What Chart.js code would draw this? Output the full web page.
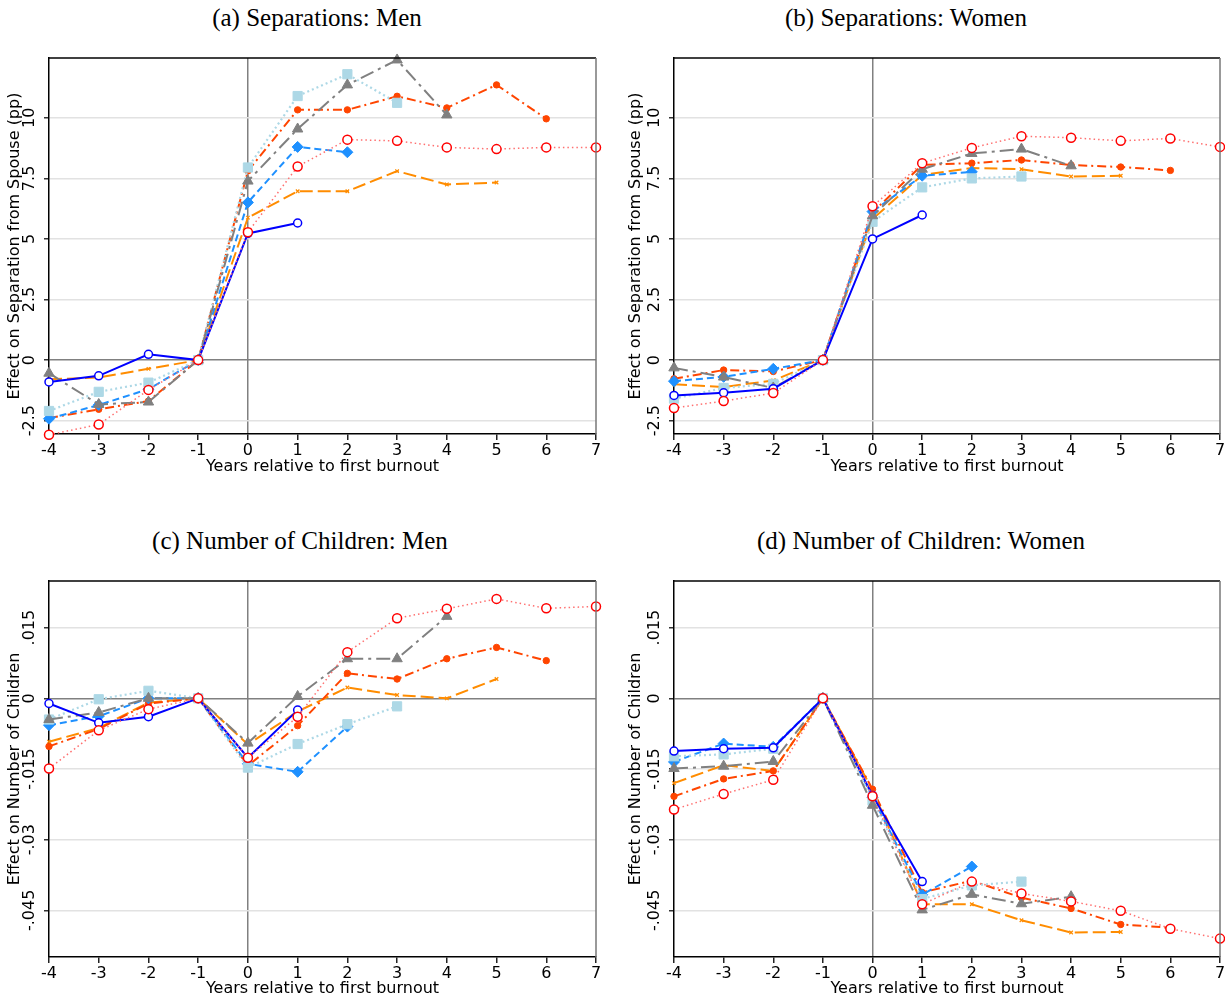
<!DOCTYPE html>
<html>
<head>
<meta charset="utf-8">
<script src="https://cdn.jsdelivr.net/npm/chart.js@4.4.1/dist/chart.umd.min.js"></script>
<style>
  body { margin: 0; background: #fff; width: 1225px; height: 1001px; position: relative; overflow: hidden; }
  canvas { position: absolute; }
  .ptitle {
    position: absolute; width: 500px; height: 30px; line-height: 30px; text-align: center;
    font-family: 'Liberation Serif', 'DejaVu Serif', serif; font-size: 25px; color: #000; white-space: nowrap;
  }
</style>
</head>
<body>
<div class="ptitle" style="left:67px;top:3px">(a) Separations: Men</div>
<div class="ptitle" style="left:656px;top:3px">(b) Separations: Women</div>
<div class="ptitle" style="left:50px;top:526px">(c) Number of Children: Men</div>
<div class="ptitle" style="left:671px;top:526px">(d) Number of Children: Women</div>
<canvas id="chartA" width="634" height="480" style="left:0;top:0"></canvas>
<canvas id="chartB" width="650" height="480" style="left:585px;top:0"></canvas>
<canvas id="chartC" width="620" height="501" style="left:-10px;top:500px"></canvas>
<canvas id="chartD" width="620" height="501" style="left:617px;top:500px"></canvas>
<script>
// event time, years relative to first burnout
const years = [-4, -3, -2, -1, 0, 1, 2, 3, 4, 5, 6, 7];

// (a) Separations: Men  (each series stops at its last observed year)
const sepMen1 = [-0.9, -0.65, 0.24, 0, 5.23, 5.66];
const sepMen2 = [-2.42, -1.85, -1.2, 0, 6.51, 8.8, 8.58];
const sepMen3 = [-2.1, -1.31, -0.93, 0, 7.95, 10.9, 11.8, 10.62];
const sepMen4 = [-0.54, -1.83, -1.73, 0, 7.39, 9.54, 11.36, 12.39, 10.12];
const sepMen5 = [-2.39, -2.03, -1.69, 0, 7.81, 10.33, 10.33, 10.89, 10.41, 11.36, 9.96];
const sepMen6 = [-0.79, -0.72, -0.36, 0, 5.88, 6.97, 6.97, 7.8, 7.25, 7.33];
const sepMen7 = [-3.08, -2.66, -1.23, 0, 5.28, 7.99, 9.1, 9.05, 8.78, 8.71, 8.78, 8.78];

// (b) Separations: Women
const sepWom1 = [-1.46, -1.35, -1.18, 0, 5.0, 5.99];
const sepWom2 = [-0.87, -0.69, -0.36, 0, 6.13, 7.61, 7.77];
const sepWom3 = [-1.59, -1.15, -0.98, 0, 5.71, 7.13, 7.5, 7.58];
const sepWom4 = [-0.32, -0.7, -1.15, 0, 5.96, 7.88, 8.53, 8.71, 8.02];
const sepWom5 = [-0.77, -0.41, -0.47, 0, 6.1, 8.06, 8.13, 8.26, 8.05, 7.97, 7.83];
const sepWom6 = [-1.0, -1.11, -0.84, 0, 5.82, 7.64, 7.93, 7.88, 7.58, 7.61];
const sepWom7 = [-1.98, -1.69, -1.36, 0, 6.35, 8.13, 8.76, 9.24, 9.18, 9.05, 9.15, 8.8];

// (c) Number of Children: Men
const kidsMen1 = [-0.0011, -0.0052, -0.0039, 0, -0.0126, -0.0025];
const kidsMen2 = [-0.0057, -0.0038, 0, 0, -0.0139, -0.0156, -0.006];
const kidsMen3 = [-0.0045, -0.0002, 0.0016, 0, -0.0147, -0.0097, -0.0055, -0.0017];
const kidsMen4 = [-0.0045, -0.003, 0, 0, -0.0095, 0.0004, 0.0084, 0.0084, 0.0174];
const kidsMen5 = [-0.0102, -0.0065, -0.0011, 0, -0.0143, -0.0058, 0.0053, 0.0041, 0.0084, 0.0108, 0.008];
const kidsMen6 = [-0.0092, -0.0063, -0.0009, 0, -0.0098, -0.0028, 0.0023, 0.0007, 0, 0.0041];
const kidsMen7 = [-0.0149, -0.0068, -0.0023, 0, -0.0126, -0.0039, 0.0098, 0.017, 0.019, 0.0211, 0.0191, 0.0195];

// (d) Number of Children: Women
const kidsWom1 = [-0.0112, -0.0107, -0.0105, 0, -0.0206, -0.0389];
const kidsWom2 = [-0.0135, -0.0096, -0.0103, 0, -0.021, -0.0417, -0.0357];
const kidsWom3 = [-0.0123, -0.0119, -0.0107, 0, -0.0217, -0.0426, -0.0397, -0.0389];
const kidsWom4 = [-0.0149, -0.0144, -0.0134, 0, -0.0227, -0.0449, -0.0416, -0.0436, -0.0421];
const kidsWom5 = [-0.0208, -0.0171, -0.0154, 0, -0.0193, -0.0412, -0.0387, -0.0423, -0.0446, -0.048, -0.0487];
const kidsWom6 = [-0.018, -0.0142, -0.0154, 0, -0.0195, -0.0437, -0.0437, -0.0471, -0.0497, -0.0496];
const kidsWom7 = [-0.0236, -0.0203, -0.0173, 0, -0.0208, -0.0437, -0.0389, -0.0414, -0.0431, -0.0451, -0.0489, -0.051];

// y axis ticks
const sepTicks = [-2.5, 0, 2.5, 5, 7.5, 10];
const sepTickLabels = ['-2.5', '0', '2.5', '5', '7.5', '10'];
const kidTicks = [-0.045, -0.03, -0.015, 0, 0.015];
const kidTickLabels = ['-.045', '-.03', '-.015', '0', '.015'];

// line / marker style of each series (same in all panels)
const seriesStyles = [
    { color: '#0000ff', lineColor: '#0000ff', dash: [], width: 2, point: 'circle', radius: 4, fill: '#ffffff', pbw: 1.5 },
    { color: '#1e90ff', lineColor: '#1e90ff', dash: [7, 4], width: 2, point: 'rectRot', radius: 5.5, fill: '#1e90ff', pbw: 1 },
    { color: '#add8e6', lineColor: '#add8e6', dash: [2, 3], width: 2.2, point: 'rect', radius: 6.5, fill: '#add8e6', pbw: 1 },
    { color: '#808080', lineColor: '#808080', dash: [14, 5, 3, 5], width: 2, point: 'triangle', radius: 6, fill: '#808080', pbw: 1 },
    { color: '#ff4500', lineColor: '#ff4500', dash: [9, 4, 2, 4], width: 2, point: 'circle', radius: 3.2, fill: '#ff4500', pbw: 1 },
    { color: '#ff8c00', lineColor: '#ff8c00', dash: [13, 5], width: 2, point: 'crossRot', radius: 2.5, fill: '#ff8c00', pbw: 1.2 },
    { color: '#ff0000', lineColor: '#ff7070', dash: [1.5, 3], width: 1.5, point: 'circle', radius: 4.5, fill: '#ffffff', pbw: 1.5 }
];
const drawOrder = [2, 5, 4, 3, 6, 7, 1];

const axisFont = { family: "'DejaVu Sans', sans-serif", size: 16 };

// draws the top and right edges of the plot box
const framePlugin = {
    id: 'frame',
    afterDraw(chart) {
        const { ctx, chartArea: a } = chart;
        ctx.save();
        ctx.lineWidth = 1.5;
        ctx.strokeStyle = '#000';
        ctx.beginPath();
        ctx.moveTo(a.left, a.top);
        ctx.lineTo(a.right, a.top);
        ctx.stroke();
        ctx.strokeStyle = '#777';
        ctx.beginPath();
        ctx.moveTo(a.right, a.top);
        ctx.lineTo(a.right, a.bottom);
        ctx.stroke();
        ctx.restore();
    }
};

function makePanel(id, opt) {
    const datasets = opt.series.map((vals, i) => {
        const s = seriesStyles[i];
        return {
            label: 'Series ' + (i + 1),
            data: vals.map((v, j) => ({ x: years[j], y: v })),
            borderColor: s.lineColor,
            borderWidth: s.width,
            borderDash: s.dash,
            pointStyle: s.point,
            pointRadius: s.radius,
            pointBackgroundColor: s.fill,
            pointBorderColor: s.color,
            pointBorderWidth: s.pbw,
            tension: 0,
            clip: false,
            order: drawOrder[i]
        };
    });

    new Chart(document.getElementById(id), {
        type: 'line',
        data: { datasets: datasets },
        options: {
            responsive: false,
            animation: false,
            layout: { padding: { left: 0, right: opt.padRight, top: opt.padTop, bottom: 0 } },
            plugins: {
                legend: { display: false },
                tooltip: { enabled: false },
                title: { display: false }
            },
            scales: {
                x: {
                    type: 'linear',
                    min: -4,
                    max: 7,
                    afterBuildTicks: axis => { axis.ticks = years.map(v => ({ value: v })); },
                    afterFit: axis => { axis.height = opt.xHeight; },
                    ticks: { color: '#000', font: axisFont, padding: 1, maxRotation: 0 },
                    grid: {
                        drawOnChartArea: true,
                        color: c => (c.tick && c.tick.value === 0 ? '#808080' : 'rgba(0,0,0,0)'),
                        lineWidth: 1.5,
                        tickLength: 6,
                        tickColor: '#222'
                    },
                    border: { color: '#000', width: 1.5 },
                    title: {
                        display: true,
                        text: 'Years relative to first burnout',
                        color: '#000',
                        font: axisFont,
                        padding: { top: 0, bottom: opt.xTitlePad }
                    }
                },
                y: {
                    min: opt.yMin,
                    max: opt.yMax,
                    afterBuildTicks: axis => { axis.ticks = opt.ticks.map(v => ({ value: v })); },
                    afterFit: axis => { axis.width = opt.yWidth; },
                    ticks: {
                        color: '#000',
                        font: axisFont,
                        minRotation: 90,
                        maxRotation: 90,
                        crossAlign: 'center',
                        padding: opt.yTickPad,
                        callback: v => opt.tickLabels[opt.ticks.indexOf(v)]
                    },
                    grid: {
                        color: c => (c.tick && c.tick.value === 0 ? '#808080' : '#e2e2e2'),
                        lineWidth: 1.5,
                        tickLength: 5,
                        tickColor: '#333'
                    },
                    border: { color: '#000', width: 1.5 },
                    title: {
                        display: true,
                        text: opt.yTitle,
                        color: '#000',
                        font: axisFont,
                        padding: { top: opt.yTitlePad, bottom: 0 }
                    }
                }
            }
        },
        plugins: [framePlugin]
    });
}

makePanel('chartA', {
    yTitle: 'Effect on Separation from Spouse (pp)',
    series: [sepMen1, sepMen2, sepMen3, sepMen4, sepMen5, sepMen6, sepMen7],
    ticks: sepTicks, tickLabels: sepTickLabels, yMin: -3.05, yMax: 12.47,
    padRight: 38, padTop: 58, yWidth: 49, xHeight: 46,
    xTitlePad: 3.4, yTitlePad: 4.9, yTickPad: -1.6
});

makePanel('chartB', {
    yTitle: 'Effect on Separation from Spouse (pp)',
    series: [sepWom1, sepWom2, sepWom3, sepWom4, sepWom5, sepWom6, sepWom7],
    ticks: sepTicks, tickLabels: sepTickLabels, yMin: -3.05, yMax: 12.47,
    padRight: 15, padTop: 58, yWidth: 89, xHeight: 46,
    xTitlePad: 3.4, yTitlePad: 41.4, yTickPad: -1.6
});

makePanel('chartC', {
    yTitle: 'Effect on Number of Children',
    series: [kidsMen1, kidsMen2, kidsMen3, kidsMen4, kidsMen5, kidsMen6, kidsMen7],
    ticks: kidTicks, tickLabels: kidTickLabels, yMin: -0.0549, yMax: 0.0249,
    padRight: 14, padTop: 81, yWidth: 59, xHeight: 44,
    xTitlePad: 2.4, yTitlePad: 14.9, yTickPad: -6.7
});

makePanel('chartD', {
    yTitle: 'Effect on Number of Children',
    series: [kidsWom1, kidsWom2, kidsWom3, kidsWom4, kidsWom5, kidsWom6, kidsWom7],
    ticks: kidTicks, tickLabels: kidTickLabels, yMin: -0.0549, yMax: 0.0249,
    padRight: 17, padTop: 81, yWidth: 57, xHeight: 44,
    xTitlePad: 2.4, yTitlePad: 9.4, yTickPad: -6.7
});
</script>
</body>
</html>
